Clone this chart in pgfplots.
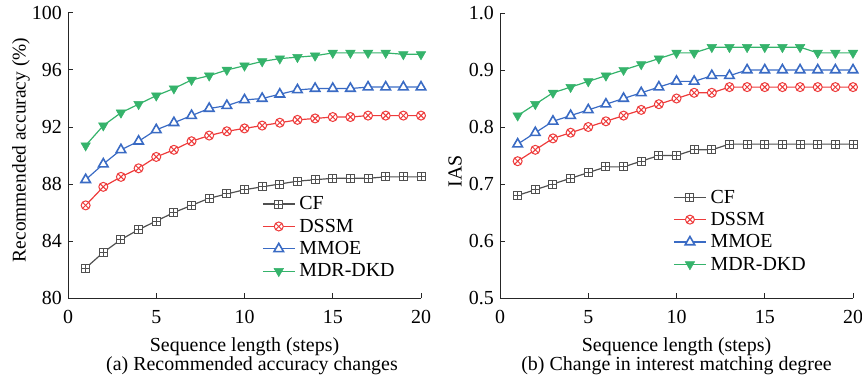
\documentclass[border=0pt]{standalone}
\usepackage{fontspec}
\setmainfont{Liberation Serif}
\usepackage{pgfplots}
\pgfplotsset{compat=1.18}
\definecolor{cfc}{HTML}{505050}
\definecolor{dsc}{HTML}{EE3B3B}
\definecolor{mmc}{HTML}{3A6BC4}
\definecolor{mdc}{HTML}{35B36B}
\newcommand\f{\rmfamily\fontsize{20}{22}\selectfont}
\pgfdeclareplotmark{boxplus}{%
  \pgfpathrectangle{\pgfpoint{-\pgfplotmarksize}{-\pgfplotmarksize}}{\pgfpoint{2\pgfplotmarksize}{2\pgfplotmarksize}}%
  \pgfusepathqfillstroke
  \pgfpathmoveto{\pgfpoint{-\pgfplotmarksize}{0pt}}\pgfpathlineto{\pgfpoint{\pgfplotmarksize}{0pt}}%
  \pgfpathmoveto{\pgfpoint{0pt}{-\pgfplotmarksize}}\pgfpathlineto{\pgfpoint{0pt}{\pgfplotmarksize}}%
  \pgfusepathqstroke}
\pgfplotsset{
  myax/.style={scale only axis, width=353bp, height=285bp, anchor=south west,
    axis x line=bottom, axis y line=left,
    axis line style={-, line width=1pt, black!85},
    tick align=inside, major tick length=5bp,
    every tick/.style={line width=1pt, black!85},
    xmin=0, xmax=20, xtick={0,5,...,20},
    tick label style={font=\f},
    /pgf/number format/assume math mode=true,
    xticklabel style={anchor=base, yshift=-25bp},
    yticklabel style={anchor=east, inner sep=0pt, xshift=-6bp},
    clip=false,
    legend cell align=left,
    legend style={draw=none, fill=none, anchor=north west, font=\f,
      nodes={inner sep=2bp, font=\f}, row sep=3.7bp, column sep=2bp},
    legend image code/.code={\draw[mark repeat=2, mark phase=2] plot coordinates {(0bp,0bp) (16bp,0bp) (32bp,0bp)};},
  },
  cfs/.style={color=cfc, line width=1.2pt, mark=boxplus, mark size=4bp, mark options={fill=white, line width=1pt}},
  dss/.style={color=dsc, line width=1.2pt, mark=otimes*, mark size=4.5bp, mark options={fill=white, line width=1pt}},
  mms/.style={color=mmc, line width=1.2pt, mark=triangle*, mark size=5.5bp, mark options={fill=white, line width=1.6pt}},
  mds/.style={color=mdc, line width=1.2pt, mark=triangle*, mark size=5.5bp, mark options={fill=mdc, rotate=180, line width=0.5pt}},
}
\begin{document}
\begin{tikzpicture}[x=1bp, y=1bp]
\path[use as bounding box] (0,0) rectangle (862,374);
\begin{axis}[myax, at={(68bp,76bp)}, ymin=80, ymax=100, ytick={80,84,...,100},
  legend style={at={(0.541,0.37)}}]
\addplot[cfs] coordinates {(1,82.1)(2,83.2)(3,84.1)(4,84.8)(5,85.4)(6,86.0)(7,86.5)(8,87.0)(9,87.3)(10,87.6)(11,87.8)(12,88.0)(13,88.2)(14,88.3)(15,88.4)(16,88.4)(17,88.4)(18,88.5)(19,88.5)(20,88.5)};
\addlegendentry{\f CF}
\addplot[dss] coordinates {(1,86.5)(2,87.8)(3,88.5)(4,89.1)(5,89.9)(6,90.4)(7,91.0)(8,91.4)(9,91.7)(10,91.9)(11,92.1)(12,92.3)(13,92.5)(14,92.6)(15,92.7)(16,92.7)(17,92.8)(18,92.8)(19,92.8)(20,92.8)};
\addlegendentry{\f DSSM}
\addplot[mms] coordinates {(1,88.3)(2,89.4)(3,90.4)(4,91.0)(5,91.8)(6,92.3)(7,92.8)(8,93.3)(9,93.5)(10,93.9)(11,94.0)(12,94.3)(13,94.6)(14,94.7)(15,94.7)(16,94.7)(17,94.8)(18,94.8)(19,94.8)(20,94.8)};
\addlegendentry{\f MMOE}
\addplot[mds] coordinates {(1,90.7)(2,92.1)(3,93.0)(4,93.6)(5,94.2)(6,94.7)(7,95.3)(8,95.6)(9,96.0)(10,96.3)(11,96.6)(12,96.8)(13,96.9)(14,97.0)(15,97.2)(16,97.2)(17,97.2)(18,97.2)(19,97.1)(20,97.1)};
\addlegendentry{\f MDR-DKD}
\end{axis}
\begin{axis}[myax, at={(500bp,76bp)}, ymin=0.5, ymax=1.0, ytick={0.5,0.6,...,1.0},
  yticklabel style={/pgf/number format/.cd, fixed, fixed zerofill, precision=1},
  legend style={at={(0.482,0.394)}}]
\addplot[cfs] coordinates {(1,0.68)(2,0.69)(3,0.70)(4,0.71)(5,0.72)(6,0.73)(7,0.73)(8,0.74)(9,0.75)(10,0.75)(11,0.76)(12,0.76)(13,0.77)(14,0.77)(15,0.77)(16,0.77)(17,0.77)(18,0.77)(19,0.77)(20,0.77)};
\addlegendentry{\f CF}
\addplot[dss] coordinates {(1,0.74)(2,0.76)(3,0.78)(4,0.79)(5,0.80)(6,0.81)(7,0.82)(8,0.83)(9,0.84)(10,0.85)(11,0.86)(12,0.86)(13,0.87)(14,0.87)(15,0.87)(16,0.87)(17,0.87)(18,0.87)(19,0.87)(20,0.87)};
\addlegendentry{\f DSSM}
\addplot[mms] coordinates {(1,0.77)(2,0.79)(3,0.81)(4,0.82)(5,0.83)(6,0.84)(7,0.85)(8,0.86)(9,0.87)(10,0.88)(11,0.88)(12,0.89)(13,0.89)(14,0.90)(15,0.90)(16,0.90)(17,0.90)(18,0.90)(19,0.90)(20,0.90)};
\addlegendentry{\f MMOE}
\addplot[mds] coordinates {(1,0.82)(2,0.84)(3,0.86)(4,0.87)(5,0.88)(6,0.89)(7,0.90)(8,0.91)(9,0.92)(10,0.93)(11,0.93)(12,0.94)(13,0.94)(14,0.94)(15,0.94)(16,0.94)(17,0.94)(18,0.93)(19,0.93)(20,0.93)};
\addlegendentry{\f MDR-DKD}
\end{axis}
\node[rotate=90, font=\rmfamily\fontsize{19.5}{21}\selectfont] at (21,224) {Recommended accuracy (\%)};
\node[rotate=90, font=\f] at (455,203) {IAS};
\node[anchor=base, font=\f] at (244.5,23) {Sequence length (steps)};
\node[anchor=base, font=\f] at (676.5,23) {Sequence length (steps)};
\node[anchor=base, font=\f] at (252,4) {(a) Recommended accuracy changes};
\node[anchor=base, font=\f] at (676.5,4) {(b) Change in interest matching degree};
\end{tikzpicture}
\end{document}
